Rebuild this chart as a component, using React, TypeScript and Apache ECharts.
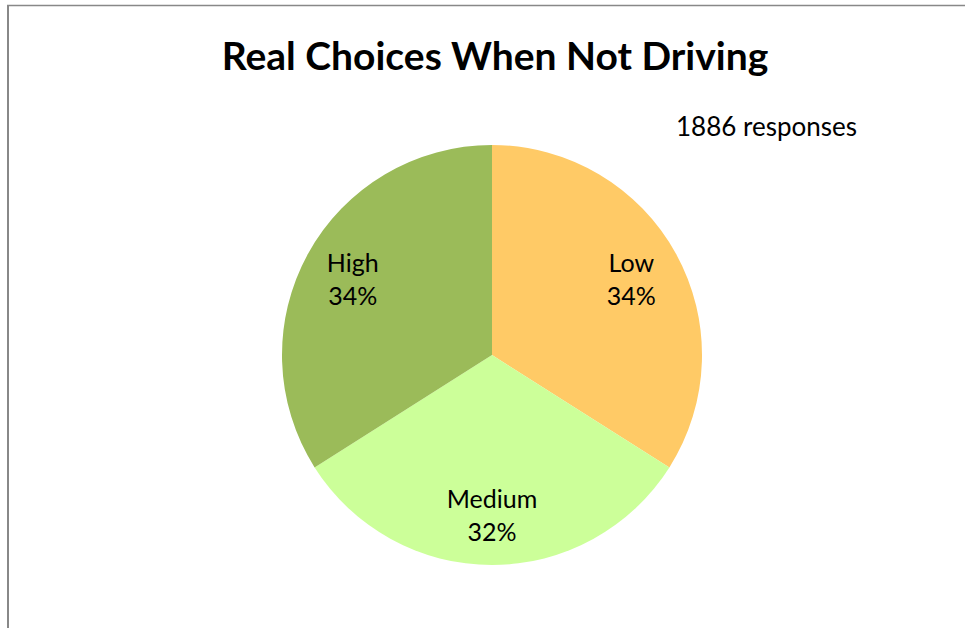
import React, { useEffect, useRef } from "react";
import * as echarts from "echarts";

const categories = ["Low", "Medium", "High"];
const values = [641, 604, 641];
const colors = ["#FFCA66", "#CCFF99", "#9BBB59"];
const titleText = "Real Choices When Not Driving";
const subText = "1886 responses";

export default function App() {
  const ref = useRef<HTMLDivElement>(null);
  useEffect(() => {
    if (!ref.current) return;
    const chart = echarts.init(ref.current, null, { renderer: "svg" });
    const total = values.reduce((a, b) => a + b, 0);
    const data = categories.map((c, i) => ({ name: c, value: values[i], itemStyle: { color: colors[i] } }));
    chart.setOption({
      animation: false,
      backgroundColor: "#ffffff",
      title: {
        text: titleText,
        left: 490,
        textAlign: "center",
        top: 30,
        textStyle: { fontFamily: "Lato", fontWeight: "bold", fontSize: 39, color: "#000" },
      },
      graphic: [
        { type: "line", shape: { x1: 7, y1: 5.5, x2: 965, y2: 5.5 }, style: { stroke: "#888", lineWidth: 1.5 } },
        { type: "line", shape: { x1: 8, y1: 5, x2: 8, y2: 628 }, style: { stroke: "#888", lineWidth: 2 } },
        {
          type: "text",
          left: 676,
          top: 113,
          style: { text: subText, fontFamily: "Lato", fontSize: 26, fill: "#000" },
        },
      ],
      series: [
        {
          type: "pie",
          center: [492, 355],
          radius: [0, 210],
          startAngle: 90,
          clockwise: true,
          silent: true,
          label: { show: false },
          labelLine: { show: false },
          data,
        },
        {
          type: "pie",
          center: [492, 355],
          radius: [0, 312],
          startAngle: 90,
          clockwise: true,
          silent: true,
          itemStyle: { color: "transparent" },
          label: {
            show: true,
            position: "inside",
            fontFamily: "Lato",
            fontSize: 25,
            lineHeight: 33,
            color: "#000",
            formatter: (p: any) => `${p.name}\n${Math.round((p.value / total) * 100)}%`,
          },
          labelLine: { show: false },
          data: categories.map((c, i) => ({ name: c, value: values[i] })),
        },
      ],
    });
    return () => chart.dispose();
  }, []);
  return <div ref={ref} style={{ position: "absolute", left: 0, top: 0, width: 966, height: 628 }} />;
}
